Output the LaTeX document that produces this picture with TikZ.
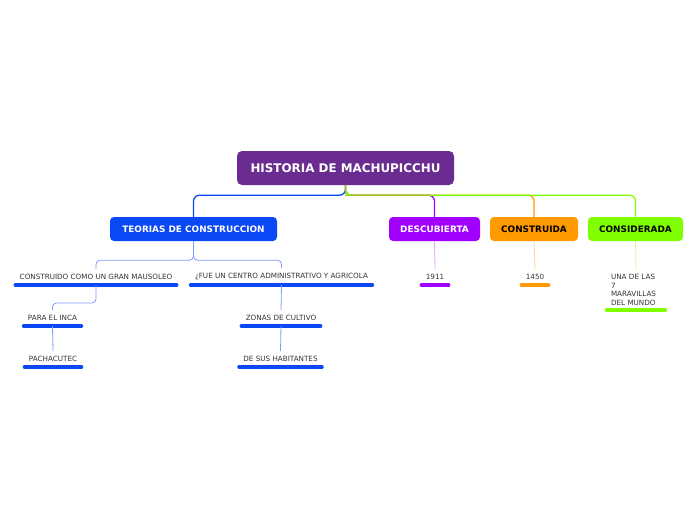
\documentclass[tikz,border=0pt]{standalone}
\usepackage{fontspec}
\setmainfont{DejaVu Sans}
\definecolor{rootpurple}{HTML}{6A2C90}
\definecolor{teoblue}{HTML}{0A47F5}
\definecolor{teolight}{HTML}{7E9CFF}
\definecolor{descpurple}{HTML}{A100FF}
\definecolor{desclight}{HTML}{D9A8FF}
\definecolor{constorange}{HTML}{FF9A00}
\definecolor{constlight}{HTML}{FFD49A}
\definecolor{consgreen}{HTML}{7FFF00}
\definecolor{conslight}{HTML}{CCFF99}
\definecolor{linegreen}{HTML}{99CC22}
\definecolor{subtext}{HTML}{333333}
\begin{document}
\begin{tikzpicture}[x=1pt, y=-1pt,
    main node/.style={rounded corners=4pt, text=white, inner sep=0pt, minimum height=24pt,
      font=\bfseries\fontsize{8.9}{10}\selectfont},
    sub node/.style={text=subtext, inner xsep=6pt, inner ysep=5pt, anchor=south,
      font=\fontsize{7.2}{8.5}\selectfont,
      append after command={(\tikzlastnode.south west) edge[bar=#1] (\tikzlastnode.south east)}},
    bar/.style={draw=#1, line width=3.6pt, line cap=round, shorten <=1.8pt, shorten >=1.8pt},
    link/.style={draw=#1, line width=1.3pt, rounded corners=6pt},
    twig/.style={draw=#1, line width=0.8pt, rounded corners=4pt}]
  \useasboundingbox (0,0) rectangle (696,520);

  % main topics
  \node[main node, fill=rootpurple, minimum width=217pt, minimum height=34pt,
    rounded corners=5pt, font=\bfseries\fontsize{11.9}{13}\selectfont] (root) at (345.5,168) {HISTORIA DE MACHUPICCHU};
  \node[main node, fill=teoblue, minimum width=167pt] (teorias) at (193.5,229) {TEORIAS DE CONSTRUCCION};
  \node[main node, fill=descpurple, minimum width=91pt] (descubierta) at (434.5,229) {DESCUBIERTA};
  \node[main node, fill=constorange, text=black, minimum width=88pt] (construida) at (534,229) {CONSTRUIDA};
  \node[main node, fill=consgreen, text=black, minimum width=95pt] (considerada) at (635.5,229) {CONSIDERADA};

  % subtopics
  \node[sub node=teoblue] (mausoleo) at (96,285) {CONSTRUIDO COMO UN GRAN MAUSOLEO};
  \node[sub node=teoblue] (centro) at (281.5,285) {¿FUE UN CENTRO ADMINISTRATIVO Y AGRICOLA};
  \node[sub node=teoblue] (inca) at (52.5,326) {PARA EL INCA};
  \node[sub node=teoblue] (pachacutec) at (53,367) {PACHACUTEC};
  \node[sub node=teoblue] (zonas) at (281,326) {ZONAS DE CULTIVO};
  \node[sub node=teoblue] (habitantes) at (280.5,367) {DE SUS HABITANTES};
  \node[sub node=descpurple] (y1911) at (435,285) {1911};
  \node[sub node=constorange] (y1450) at (535,285) {1450};
  \node[sub node=consgreen, align=left, text width=50pt, inner ysep=4pt,
    font=\fontsize{7.2}{8.8}\selectfont] (maravillas) at (636,310) {UNA DE LAS\\7\\MARAVILLAS\\DEL MUNDO};

  % connectors
  \path[link=teoblue] (root.south) -- ++(0,10) -| (teorias.north);
  \path[link=descpurple] (root.south) -- ++(0,10) -| (descubierta.north);
  \path[link=constorange] (root.south) -- ++(0,10) -| (construida.north);
  \path[link=consgreen] (root.south) -- ++(0,10) -| (considerada.north);
  \path[draw=linegreen, line width=1.3pt] (root.south) -- ++(0,10) -- ++(85,0);
  \path[twig=teolight] (teorias.south) -- ++(0,19) -| (mausoleo.north);
  \path[twig=teolight] (teorias.south) -- ++(0,19) -| (centro.north);
  \path[twig=teolight] (mausoleo.south) -- ++(0,18) -| (inca.north);
  \path[twig=teolight] (inca.south) -- (pachacutec.north);
  \path[twig=teolight] (centro.south) -- (zonas.north);
  \path[twig=teolight] (zonas.south) -- (habitantes.north);
  \path[twig=desclight] (descubierta.south) -- (y1911.north);
  \path[twig=constlight] (construida.south) -- (y1450.north);
  \path[twig=conslight] (considerada.south) -- (maravillas.north);
\end{tikzpicture}
\end{document}
